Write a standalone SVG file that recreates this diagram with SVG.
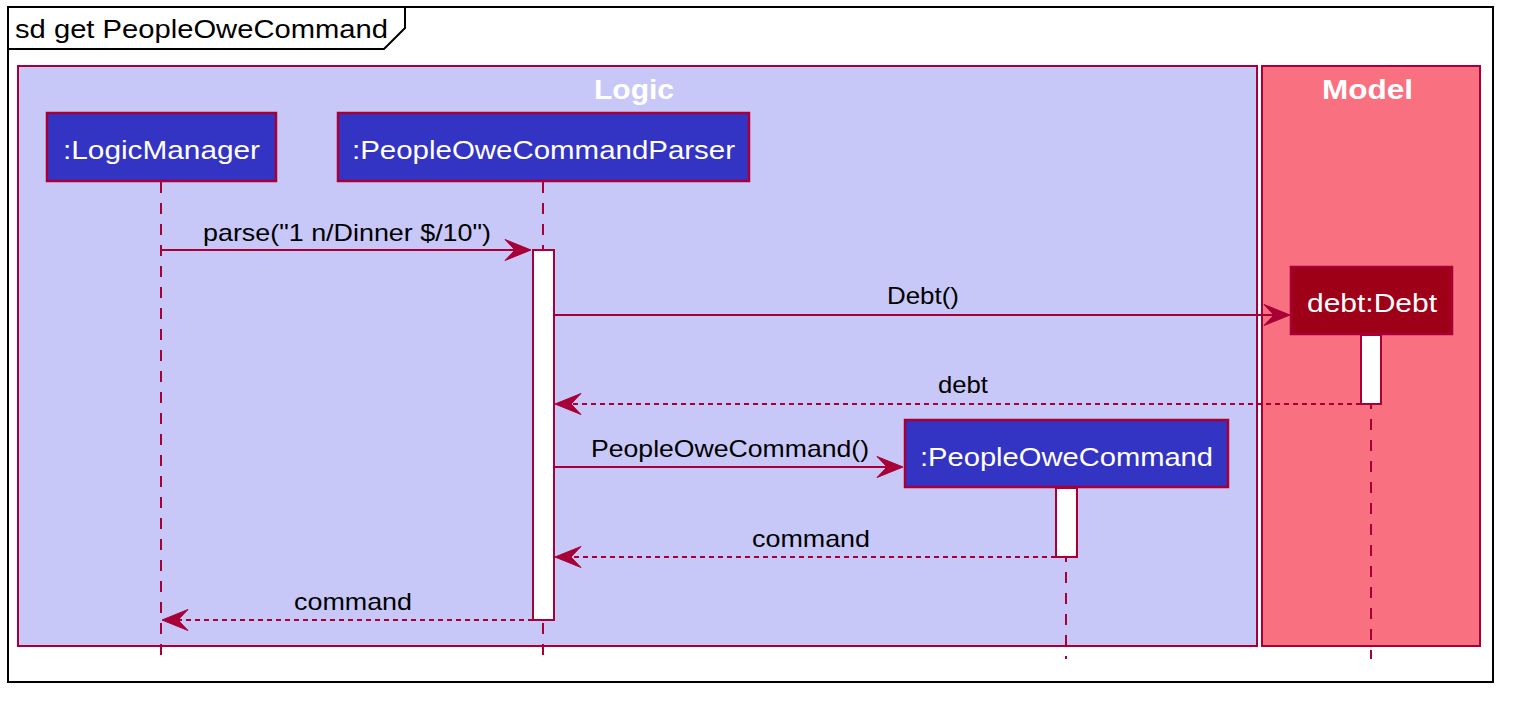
<svg xmlns="http://www.w3.org/2000/svg" width="1514" height="702" viewBox="0 0 1514 702">
<style>
text{font-family:"Liberation Sans",Arial,sans-serif}
.msg{font-size:24px;fill:#000}
.pt{font-size:26px;fill:#fff}
.box{font-size:27px;font-weight:bold;fill:#fff}
.part{fill:#3333C4;stroke:#A80036;stroke-width:2.5}
.life{stroke:#A80036;stroke-width:2;stroke-dasharray:11,10;fill:none}
.act{fill:#fff;stroke:#A80036;stroke-width:2}
.sync{stroke:#A80036;stroke-width:2;fill:none}
.ret{stroke:#A80036;stroke-width:2;stroke-dasharray:5,4;fill:none}
.head{fill:#A80036;stroke:#A80036;stroke-width:1}
</style>
<defs>
<polygon id="ahR" class="head" points="0,0 -26,-10.5 -16,0 -26,10.5"/>
<polygon id="ahL" class="head" points="0,0 26,-10.5 16,0 26,10.5"/>
</defs>
<rect width="1514" height="702" fill="#fff"/>
<g id="frame">
<rect x="8" y="7" width="1485" height="675" fill="none" stroke="#000" stroke-width="2"/>
<path d="M8,49 L384,49 L405,28 L405,7" fill="none" stroke="#000" stroke-width="2"/>
<text x="15" y="38" font-size="25" textLength="373" lengthAdjust="spacingAndGlyphs">sd get PeopleOweCommand</text>
</g>
<g id="box-logic">
<rect x="18" y="66" width="1239" height="580" fill="#C8C8F8" stroke="#A80036" stroke-width="2"/>
<text class="box" x="594" y="99" textLength="80" lengthAdjust="spacingAndGlyphs">Logic</text>
</g>
<g id="box-model">
<rect x="1262" y="66" width="218" height="580" fill="#F97181" stroke="#A80036" stroke-width="2"/>
<text class="box" x="1322" y="99" textLength="91" lengthAdjust="spacingAndGlyphs">Model</text>
</g>
<g id="lifelines">
<line class="life" x1="161" y1="182" x2="161" y2="656"/>
<line class="life" x1="543" y1="182" x2="543" y2="656"/>
<line class="life" x1="1371" y1="335" x2="1371" y2="659"/>
<line class="life" x1="1066" y1="488" x2="1066" y2="659"/>
</g>
<g id="LogicManager">
<rect class="part" x="47" y="113" width="229" height="68"/>
<text class="pt" x="63" y="159" textLength="197" lengthAdjust="spacingAndGlyphs">:LogicManager</text>
</g>
<g id="PeopleOweCommandParser">
<rect class="part" x="338" y="113" width="411" height="68"/>
<text class="pt" x="352" y="159" textLength="383" lengthAdjust="spacingAndGlyphs">:PeopleOweCommandParser</text>
<rect class="act" x="533" y="250" width="21" height="370"/>
</g>
<g id="Debt">
<rect x="1291" y="267" width="161" height="67" fill="#9E0018" stroke="#A80036" stroke-width="2.5"/>
<text class="pt" x="1307" y="312" textLength="130" lengthAdjust="spacingAndGlyphs">debt:Debt</text>
<rect class="act" x="1361" y="335" width="20" height="69"/>
</g>
<g id="PeopleOweCommand">
<rect class="part" x="905" y="420" width="323" height="67"/>
<text class="pt" x="920" y="466" textLength="293" lengthAdjust="spacingAndGlyphs">:PeopleOweCommand</text>
<rect class="act" x="1056" y="488" width="21" height="69"/>
</g>
<g id="connectors">
<line class="sync" x1="161" y1="250" x2="520" y2="250"/>
<use href="#ahR" x="531" y="250"/>
<text class="msg" x="203" y="241" textLength="288" lengthAdjust="spacingAndGlyphs">parse("1 n/Dinner $/10")</text>
<line class="sync" x1="554" y1="315" x2="1278" y2="315"/>
<use href="#ahR" x="1290" y="315"/>
<text class="msg" x="887" y="304" textLength="72" lengthAdjust="spacingAndGlyphs">Debt()</text>
<line class="ret" x1="1361" y1="404" x2="566" y2="404"/>
<use href="#ahL" x="555" y="404"/>
<text class="msg" x="938" y="393" textLength="50" lengthAdjust="spacingAndGlyphs">debt</text>
<line class="sync" x1="554" y1="467" x2="892" y2="467"/>
<use href="#ahR" x="903" y="467"/>
<text class="msg" x="591" y="457" textLength="278" lengthAdjust="spacingAndGlyphs">PeopleOweCommand()</text>
<line class="ret" x1="1056" y1="557" x2="566" y2="557"/>
<use href="#ahL" x="555" y="557"/>
<text class="msg" x="752" y="547" textLength="118" lengthAdjust="spacingAndGlyphs">command</text>
<line class="ret" x1="533" y1="620" x2="173" y2="620"/>
<use href="#ahL" x="162" y="620"/>
<text class="msg" x="294" y="610" textLength="118" lengthAdjust="spacingAndGlyphs">command</text>
</g>
</svg>
